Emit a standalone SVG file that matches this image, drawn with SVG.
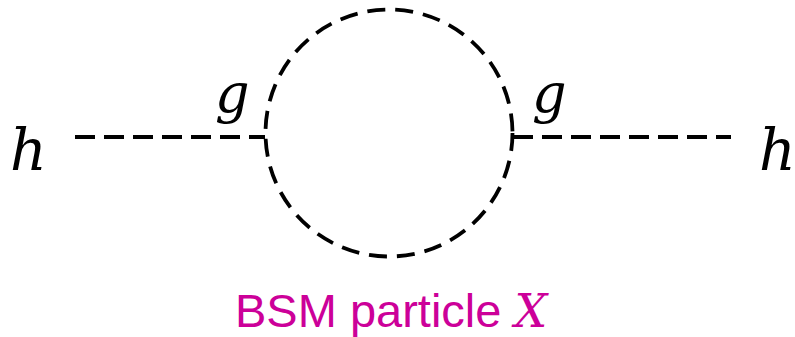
<svg xmlns="http://www.w3.org/2000/svg" width="795" height="337" viewBox="0 0 795 337">
<style>
.prop{fill:none;stroke:#000;stroke-width:3.8;stroke-dasharray:20 9}
.loop{fill:none;stroke:#000;stroke-width:3.8;stroke-dasharray:18 10}
.math{font-family:"DejaVu Serif","Liberation Serif",serif;font-style:italic;fill:#000}
.lbl{font-family:"Liberation Sans","Open Sans",sans-serif;fill:#CC0099}
</style>
<rect width="795" height="337" fill="#fff"/>
<g id="connectors">
<line class="prop" x1="75" y1="137" x2="265" y2="137"/>
<line class="prop" x1="513" y1="137" x2="731" y2="137"/>
<circle id="loop" class="loop" cx="389" cy="133" r="123.5"/>
</g>
<g id="h-left"><text class="math" x="10" y="170" font-size="57">h</text></g>
<g id="h-right"><text class="math" x="759" y="170" font-size="57">h</text></g>
<g id="g-left"><text class="math" x="215" y="112" font-size="54">g</text></g>
<g id="g-right"><text class="math" x="532" y="112" font-size="54">g</text></g>
<g id="label"><text class="lbl" x="235" y="327" font-size="47">BSM particle <tspan style="font-family:'DejaVu Serif','Liberation Serif',serif;font-style:italic" font-size="46">X</tspan></text></g>
</svg>
